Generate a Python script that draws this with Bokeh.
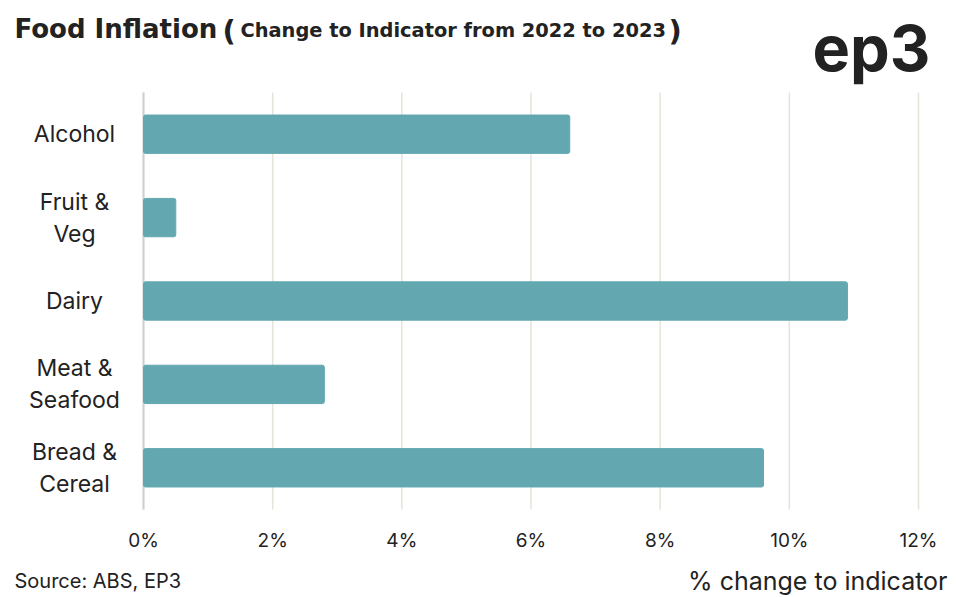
from bokeh.plotting import figure
from bokeh.models import Range1d
from bokeh.core.properties import value
from bokeh.embed import file_html
from bokeh.resources import INLINE

# ---- data ----
categories = ["Alcohol", "Fruit &\nVeg", "Dairy", "Meat &\nSeafood", "Bread &\nCereal"]
values = [6.6, 0.5, 10.9, 2.8, 9.6]
x_ticks = [0, 2, 4, 6, 8, 10, 12]
x_tick_labels = ["0%", "2%", "4%", "6%", "8%", "10%", "12%"]
title_main = "Food Inflation"
title_sub = "Change to Indicator from 2022 to 2023"
source_text = "Source: ABS, EP3"
x_label = "% change to indicator"
logo_text = "ep3"

FONT = "Inter"
TITLE_FONT = "DejaVu Sans"
TEXT = "#222222"
BAR = "#63a8b1"
GRID = "#e6e3d8"
W, H = 956, 597
FL, FT, FR, FB = 143, 92, 918, 509       # plot area edges, pixels
X0, X1 = x_ticks[0], x_ticks[-1]
n = len(categories)
kx = (FR - FL) / (X1 - X0)               # pixels per percent
ky = (FB - FT) / n                       # pixels per category slot

def dx(px):
    return X0 + (px - FL) / kx

def dy(py):
    return (FB - py) / ky

p = figure(width=W, height=H, x_range=Range1d(dx(0), dx(W)), y_range=Range1d(dy(H), dy(0)),
           output_backend="svg", toolbar_location=None, min_border=0,
           x_axis_location=None, y_axis_location=None)
p.outline_line_color = None
p.grid.visible = False
p.background_fill_color = "white"
p.border_fill_color = "white"

ypos = [n - 1 - i + 0.5 for i in range(n)]

# grid lines and zero line
p.segment(x0=x_ticks, x1=x_ticks, y0=0, y1=n, line_color=GRID, line_width=1.5)
p.segment(x0=[X0], x1=[X0], y0=0, y1=n, line_color="#cfcfcf", line_width=2)

# bars
p.hbar(y=ypos, right=values, left=0, height=0.46, color=BAR, border_radius=2)

# tick labels
p.text(x=x_ticks, y=dy(540), text=x_tick_labels, text_align="center", text_baseline="middle",
       text_font=value(FONT), text_font_size="19px", text_color=TEXT)

# category labels
p.text(x=dx(74), y=ypos, text=categories, text_align="center", text_baseline="middle",
       text_font=value(FONT), text_font_size="23px", text_color=TEXT, text_line_height=1.15)

def lab(px, py, text, size, font=FONT, bold=False, align="left"):
    p.text(x=[dx(px)], y=[dy(py)], text=[text], text_align=align, text_baseline="middle",
           text_font=value(font), text_font_size=size, text_color=TEXT,
           text_font_style="bold" if bold else "normal")

lab(14, 28, title_main, "26px", TITLE_FONT, True)
lab(222, 30, "(", "29px", TITLE_FONT, True)
lab(240, 30, title_sub, "19.4px", TITLE_FONT, True)
lab(668, 30, ")", "29px", TITLE_FONT, True)
lab(812, 47, logo_text, "63px", FONT, True)
lab(14, 580, source_text, "20px")
lab(947, 580, x_label, "25px", align="right")

open("out.html", "w").write(file_html(p, INLINE))
